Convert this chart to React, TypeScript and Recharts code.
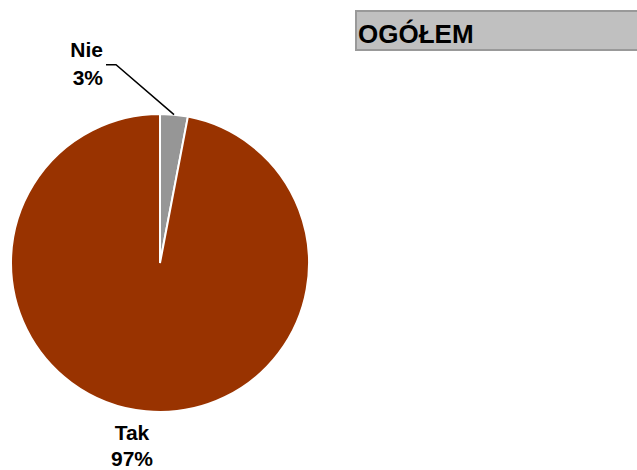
import { PieChart, Pie, Cell } from "recharts";

const categories = ["Nie", "Tak"];
const values = [3, 97];
const colors = ["#969696", "#993300"];
const title = "OGÓŁEM";

const data = categories.map((name, i) => ({ name, value: values[i] }));

const FONT = "'Liberation Sans', Arial, sans-serif";
const RAD = Math.PI / 180;

function renderLabel(props: any) {
  const { cx, cy, midAngle, outerRadius, name, percent, index } = props;
  const ex = cx + outerRadius * Math.cos(-midAngle * RAD);
  const ey = cy + outerRadius * Math.sin(-midAngle * RAD);
  const pct = `${Math.round(percent * 100)}%`;
  const textStyle = { fontFamily: FONT, fontSize: 21, fontWeight: 700, fill: "#000" };

  if (index === 0) {
    // small slice: elbow leader line, label to the left
    const bx = ex - 58;
    const by = ey - 50;
    const lx = bx - 10;
    return (
      <g key={`lbl-${index}`}>
        <polyline points={`${ex},${ey} ${bx},${by} ${lx},${by}`} fill="none" stroke="#000" strokeWidth={1.5} />
        <text x={lx - 3} y={by - 8} textAnchor="end" style={textStyle}>{name}</text>
        <text x={lx - 3} y={by + 20} textAnchor="end" style={textStyle}>{pct}</text>
      </g>
    );
  }
  return (
    <g key={`lbl-${index}`}>
      <text x={ex - 14} y={ey + 29} textAnchor="middle" style={textStyle}>{name}</text>
      <text x={ex - 14} y={ey + 55} textAnchor="middle" style={textStyle}>{pct}</text>
    </g>
  );
}

export default function App() {
  return (
    <div style={{ position: "absolute", left: 0, top: 0, width: 637, height: 470, background: "#fff", overflow: "hidden" }}>
      <PieChart width={637} height={470} margin={{ top: 0, right: 0, bottom: 0, left: 0 }}>
        <Pie
          data={data}
          dataKey="value"
          nameKey="name"
          cx={160}
          cy={263}
          outerRadius={149}
          startAngle={90}
          endAngle={-270}
          stroke="#fff"
          strokeWidth={2}
          label={renderLabel}
          labelLine={false}
          isAnimationActive={false}
        >
          {data.map((d, i) => (
            <Cell key={`cell-${i}`} fill={colors[i]} />
          ))}
        </Pie>
      </PieChart>
      <div style={{
        position: "absolute", left: 355, top: 10, width: 300, height: 37,
        background: "#C0C0C0", border: "2px solid #999999",
        fontFamily: FONT, fontWeight: 700, fontSize: 26, color: "#000",
        lineHeight: "44px", paddingLeft: 1, boxSizing: "content-box", overflow: "hidden",
      }}>
        {title}
      </div>
    </div>
  );
}
